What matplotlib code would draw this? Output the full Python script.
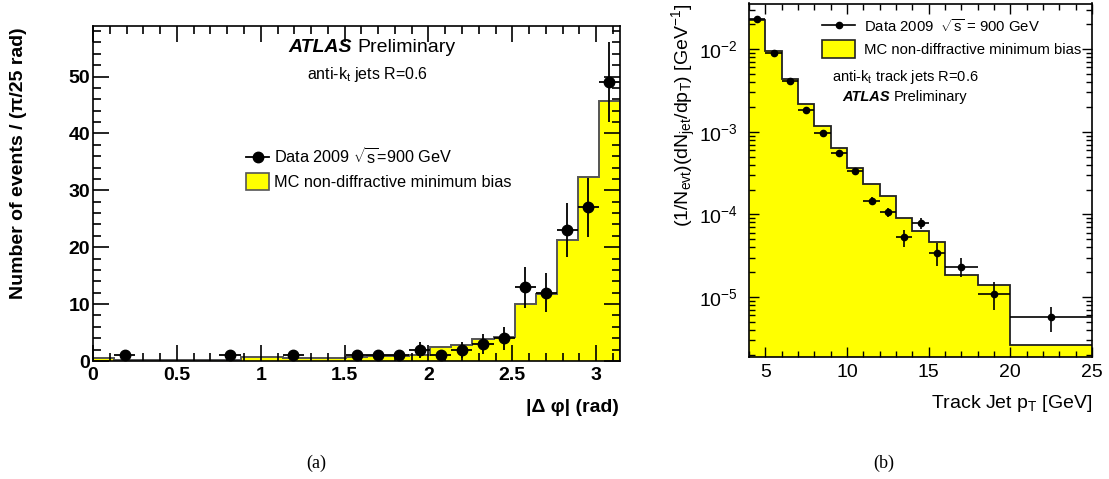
import numpy as np
import matplotlib
matplotlib.use("Agg")
import matplotlib.pyplot as plt
from matplotlib.ticker import MultipleLocator, FuncFormatter, LogLocator, NullFormatter
from matplotlib.patches import Patch
from matplotlib.lines import Line2D

plt.rcParams['font.family'] = ['Liberation Sans', 'DejaVu Sans']
plt.rcParams['mathtext.fontset'] = 'custom'
plt.rcParams['mathtext.rm'] = 'Liberation Sans'
plt.rcParams['mathtext.it'] = 'Liberation Sans:italic'
plt.rcParams['mathtext.bf'] = 'Liberation Sans:bold'

# ==========================
# DATA (a): delta phi
# ==========================
n_bins_phi = 25
mc_phi = [0.5, 0.15, 0.1, 0.1, 0.1, 0.1, 0.25, 0.7, 0.75, 0.45, 0.6, 0.6, 0.7,
          0.85, 0.8, 1.0, 2.45, 2.85, 3.9, 4.3, 10.0, 11.8, 21.3, 32.3, 45.7]
data_phi = [0, 1, 0, 0, 0, 0, 1, 0, 0, 1, 0, 0, 1,
            1, 1, 2, 1, 2, 3, 4, 13, 12, 23, 27, 49]

# ==========================
# DATA (b): track jet pT
# ==========================
edges_pt = [4, 5, 6, 7, 8, 9, 10, 11, 12, 13, 14, 15, 16, 18, 20, 25]
mc_pt = [0.0224, 0.0095, 0.0044, 0.00218, 0.00119, 0.00064, 0.000367, 0.000231,
         0.000168, 8.95e-5, 6.3e-5, 4.58e-5, 1.85e-5, 1.41e-5, 2.6e-6]
data_pt = [0.0235, 0.00903, 0.00414, 0.00183, 0.00098, 0.000547, 0.000334, 0.000146,
           0.000106, 5.27e-5, 7.85e-5, 3.44e-5, 2.33e-5, 1.10e-5, 5.68e-6]
err_pt = [2e-4, 1.2e-4, 7e-5, 4e-5, 3e-5, 2.5e-5, 2.5e-5, 1.7e-5,
          1.4e-5, 1.2e-5, 1.1e-5, 1.05e-5, 6e-6, 4e-6, 1.9e-6]

W, H = 1109, 479
YELLOW = '#ffff00'

def fx(x):
    return x / W

def fy(y):
    return 1 - y / H

fig = plt.figure(figsize=(W / 100, H / 100), dpi=100)

# ==========================
# PANEL (a)
# ==========================
ax1 = fig.add_axes([fx(93), fy(361), 527 / W, 335 / H])

edges_phi = np.linspace(0, np.pi, n_bins_phi + 1)
ax1.stairs(mc_phi, edges_phi, fill=True, facecolor=YELLOW, edgecolor='#555555', linewidth=1.4)

cnt = np.array(data_phi, dtype=float)
cen = 0.5 * (edges_phi[:-1] + edges_phi[1:])
hw = 0.5 * np.diff(edges_phi)
m = cnt > 0
ax1.errorbar(cen[m], cnt[m], xerr=hw[m], yerr=np.sqrt(cnt[m]), fmt='o', color='black',
             ms=7.5, elinewidth=1.3, capsize=0)

ax1.set_xlim(0, np.pi)
ax1.set_ylim(0, 58.9)
ax1.xaxis.set_major_locator(MultipleLocator(0.5))
ax1.xaxis.set_minor_locator(MultipleLocator(0.1))
ax1.yaxis.set_major_locator(MultipleLocator(10))
ax1.yaxis.set_minor_locator(MultipleLocator(2))
ax1.xaxis.set_major_formatter(FuncFormatter(lambda v, p: f"{v:g}"))
ax1.tick_params(which='both', direction='in', top=True, right=True, width=1.2)
ax1.tick_params(which='major', length=11.5, labelsize=14)
ax1.tick_params(which='minor', length=5.5)
ax1.tick_params(axis='y', pad=2)
ax1.tick_params(axis='x', pad=4)
for lab in ax1.get_xticklabels() + ax1.get_yticklabels():
    lab.set_fontweight('bold')
for s in ax1.spines.values():
    s.set_linewidth(1.2)

fig.text(fx(19), fy(27), 'Number of events / (π/25 rad)', rotation=90, ha='center', va='top',
         fontsize=14, fontweight='bold')
fig.text(fx(619), fy(408), '|Δ φ| (rad)', ha='right', va='center',
         fontsize=14, fontweight='bold')

t1 = fig.text(fx(288), fy(48), 'ATLAS', fontsize=14, fontweight='bold', style='italic',
              ha='left', va='center')
ax1.annotate('Preliminary', xy=(1, 0), xycoords=t1, xytext=(4, 0), textcoords='offset points',
             fontsize=14, ha='left', va='bottom')
fig.text(fx(368), fy(75), 'anti-k$_{\\mathrm{t}}$ jets R=0.6', fontsize=11.5, ha='center', va='center')

h_data1 = Line2D([], [], color='black', marker='o', ms=7.5, lw=1.3)
h_mc1 = Patch(facecolor=YELLOW, edgecolor='#555555', linewidth=1.2)
ax1.legend([h_data1, h_mc1], ['Data 2009 $\\sqrt{\\mathrm{s}}$=900 GeV', 'MC non-diffractive minimum bias'],
           loc='upper left', bbox_to_anchor=(0.29, 0.64), frameon=False, fontsize=11.7,
           handlelength=1.45, handleheight=1.3, handletextpad=0.3, labelspacing=0.35,
           borderpad=0, borderaxespad=0)

# ==========================
# PANEL (b)
# ==========================
ax2 = fig.add_axes([fx(749), fy(357), 343 / W, 353.5 / H])

e = np.array(edges_pt, dtype=float)
ax2.stairs(mc_pt, e, fill=True, facecolor=YELLOW, edgecolor='none')
ax2.stairs(mc_pt, e, fill=False, edgecolor='#222222', linewidth=1.3, baseline=None)
c2 = 0.5 * (e[:-1] + e[1:])
w2 = 0.5 * np.diff(e)
ax2.errorbar(c2, data_pt, xerr=w2, yerr=err_pt, fmt='o', color='black', ms=4.5,
             elinewidth=1.2, capsize=0)

ax2.set_yscale('log')
ax2.set_xlim(4, 25)
ax2.set_ylim(1.88e-6, 0.0357)
ax2.xaxis.set_major_locator(MultipleLocator(5))
ax2.xaxis.set_minor_locator(MultipleLocator(1))
ax2.yaxis.set_major_locator(LogLocator(base=10, numticks=20))
ax2.yaxis.set_minor_locator(LogLocator(base=10, subs=np.arange(2, 10), numticks=20))
ax2.yaxis.set_minor_formatter(NullFormatter())
ax2.tick_params(which='both', direction='in', top=True, right=True, width=1.0)
ax2.tick_params(which='major', length=7.5, labelsize=14)
ax2.tick_params(which='minor', length=4)
ax2.tick_params(axis='y', pad=8)
ax2.tick_params(axis='x', pad=5)
for s in ax2.spines.values():
    s.set_linewidth(1.2)

fig.text(fx(684), fy(4), '(1/N$_{\\mathrm{evt}}$)(dN$_{\\mathrm{jet}}$/dp$_{\\mathrm{T}}$) [GeV$^{\\mathrm{-1}}$]',
         rotation=90, ha='center', va='top', fontsize=14)
fig.text(fx(1092), fy(404), 'Track Jet p$_{\\mathrm{T}}$ [GeV]', ha='right', va='center', fontsize=14)

fig.text(fx(832), fy(77), 'anti-k$_{\\mathrm{t}}$ track jets R=0.6', fontsize=10.5, ha='left', va='center')
t2 = fig.text(fx(842), fy(97), 'ATLAS', fontsize=10.5, fontweight='bold', style='italic',
              ha='left', va='center')
ax2.annotate('Preliminary', xy=(1, 0), xycoords=t2, xytext=(3, 0), textcoords='offset points',
             fontsize=10.5, ha='left', va='bottom')

h_data2 = Line2D([], [], color='black', marker='o', ms=4.5, lw=1.2)
h_mc2 = Patch(facecolor=YELLOW, edgecolor='#222222', linewidth=1.2)
ax2.legend([h_data2, h_mc2], ['Data 2009  $\\sqrt{\\mathrm{s}}$ = 900 GeV', 'MC non-diffractive minimum bias'],
           loc='upper left', bbox_to_anchor=(0.213, 0.96), frameon=False, fontsize=10.7,
           handlelength=2.25, handleheight=1.5, handletextpad=0.55, labelspacing=0.3,
           borderpad=0, borderaxespad=0)

# ==========================
# CAPTIONS
# ==========================
fig.text(fx(316), fy(463), '(a)', ha='center', va='center', fontsize=13, family='Liberation Serif')
fig.text(fx(884), fy(463), '(b)', ha='center', va='center', fontsize=13, family='Liberation Serif')

fig.savefig('out.png', dpi=100)
